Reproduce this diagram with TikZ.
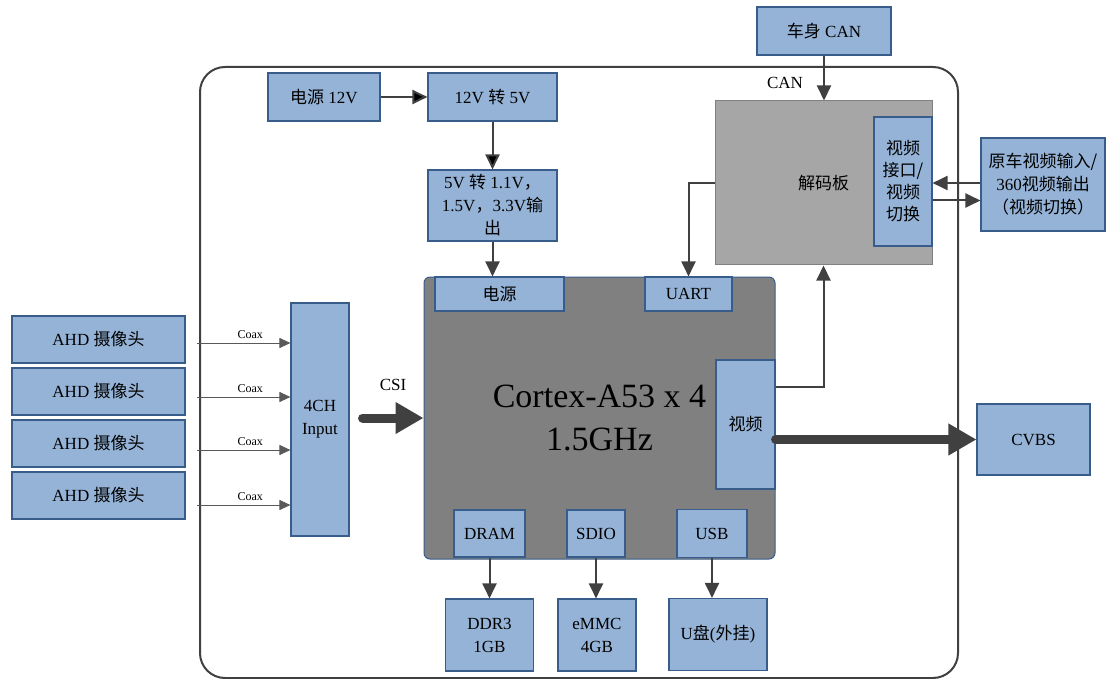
\documentclass[tikz,border=0pt]{standalone}
\usepackage{fontspec}
\setmainfont{Liberation Serif}
\newfontfamily\cjk{Noto Sans CJK SC}
\newcommand{\zh}[1]{{\cjk #1}}
\usepackage{xcolor}
\usetikzlibrary{positioning, arrows.meta}
\definecolor{boxblue}{HTML}{95B3D7}
\definecolor{boxedge}{HTML}{385D8A}
\definecolor{wiregray}{HTML}{404040}

\begin{document}
\begin{tikzpicture}[x=1pt, y=-1pt]
\tikzset{
->, % every connector gets a head
>={Triangle[length=15pt, width=14pt]}, % filled heads
every node/.style={font=\fontsize{17}{23}\selectfont, align=center, inner sep=0pt, text=black},
blk/.style 2 args={draw=boxedge, fill=boxblue, line width=1.1pt, minimum width=#1, minimum height=#2}, % light blue boxes
chip/.style={draw=boxedge, fill=black!50, line width=1pt, rounded corners=6pt}, % the SoC
board/.style={draw=black!50, fill=black!35, line width=1pt}, % decoder board
wire/.style={draw=wiregray, line width=2pt}, % plain connectors
coax/.style={draw=black!65, line width=1pt, -{Triangle[length=11pt, width=10pt]}}, % camera cables
fat/.style={draw=wiregray, line width=9pt, line cap=round, -{Triangle[length=28pt, width=30pt]}}, % bus arrows
}
\useasboundingbox (0,0) rectangle (1106,679);

% housing
\draw[-, wiregray, line width=2pt, rounded corners=25pt] (200,67) rectangle (958,678);

% power chain
\node[blk={112pt}{48pt}] (pwr) at (324,97) {\zh{电源} 12V};
\node[blk={129pt}{48pt}, node distance=168.5pt, right of=pwr] (buck) {12V \zh{转} 5V};
\node[blk={129pt}{71pt}, node distance=108.5pt, below of=buck] (ldo) {5V \zh{转} 1.1V\zh{，}\\1.5V\zh{，}3.3V\zh{输}\\\zh{出}};

% SoC and its ports
\node[chip, minimum width=351pt, minimum height=282pt, font=\fontsize{34}{43}\selectfont] (soc) at (599.5,418) {Cortex-A53 x 4\\1.5GHz};
\node[blk={129pt}{34pt}, node distance=88.5pt, below of=ldo, xshift=7pt] (socpwr) {\zh{电源}};
\node[blk={87pt}{34pt}, node distance=189pt, right of=socpwr] (uart) {UART};
\node[blk={59pt}{129pt}] (vid) at (745.5,424.5) {\zh{视频}};
\node[blk={71pt}{47pt}] (dram) at (489.5,533.5) {DRAM};
\node[blk={58pt}{47pt}, node distance=106.5pt, right of=dram] (sdio) {SDIO};
\node[blk={70pt}{48pt}, node distance=116pt, right of=sdio] (usb) {USB};

% storage
\node[blk={88pt}{72pt}, node distance=101.5pt, below of=dram] (ddr) {DDR3\\1GB};
\node[blk={78pt}{72pt}, node distance=101.5pt, below of=sdio, xshift=1pt] (emmc) {eMMC\\4GB};
\node[blk={98pt}{72pt}, node distance=101pt, below of=usb, xshift=6pt] (udisk) {U\zh{盘}(\zh{外挂})};

% decoder side
\node[blk={134pt}{48pt}] (body) at (824,31) {\zh{车身} CAN};
\node[board, minimum width=217pt, minimum height=164pt] (dec) at (823.5,183) {\zh{解码板}};
\node[blk={58pt}{129pt}, font=\cjk\fontsize{17}{22}\selectfont] (vif) at (903,181.5) {视频\\接口/\\视频\\切换};
\node[blk={124pt}{93pt}] (orig) at (1043,184.5) {\zh{原车视频输入/}\\360\zh{视频输出}\\\zh{（视频切换）}};
\node[blk={113pt}{71pt}] (cvbs) at (1033.5,439.5) {CVBS};

% cameras
\node[blk={58pt}{233pt}] (in4) at (320,419.5) {4CH\\Input};
\foreach \i/\y in {1/339.5, 2/391.5, 3/443.5, 4/495.5}
  \node[blk={173pt}{47pt}] (cam\i) at (98.5,\y) {AHD \zh{摄像头}};

% connectors
\draw[wire] (pwr) edge (buck)
  (buck) edge (ldo);
\draw[wire] (ldo) -- (ldo.south |- socpwr.north);
\draw[wire] (dram) -- (dram.south |- ddr.north);
\draw[wire] (sdio) -- (sdio.south |- emmc.north);
\draw[wire] (usb) -- (usb.south |- udisk.north);
\draw[wire] (body) -- (body.south |- dec.north) node[pos=0.61, left=20pt] {CAN};
\draw[wire] (dec.west) -| (uart.north);
\draw[wire] ([yshift=37.5pt]vid.east) -| (dec.south);
\draw[wire] ([yshift=1.5pt]orig.west) -- ([yshift=1.5pt]orig.west -| vif.east);
\draw[wire] ([yshift=-19pt]vif.east) -- ([yshift=-19pt]vif.east -| orig.west);
\draw[fat] ([yshift=-15pt]vid.east) -- ([yshift=-15pt]vid.east -| cvbs.west);
\draw[fat] ([xshift=13pt]in4.east |- soc.west) -- (soc.west) node[midway, above=23pt] {CSI};
\foreach \i/\y in {1/343, 2/397, 3/450, 4/505} {
  \coordinate (tap\i) at (197,\y);
  \draw[coax] (tap\i) -- (tap\i -| in4.west) node[pos=0.57, above=4pt, font=\fontsize{12}{14}\selectfont] {Coax};
}
\end{tikzpicture}
\end{document}
